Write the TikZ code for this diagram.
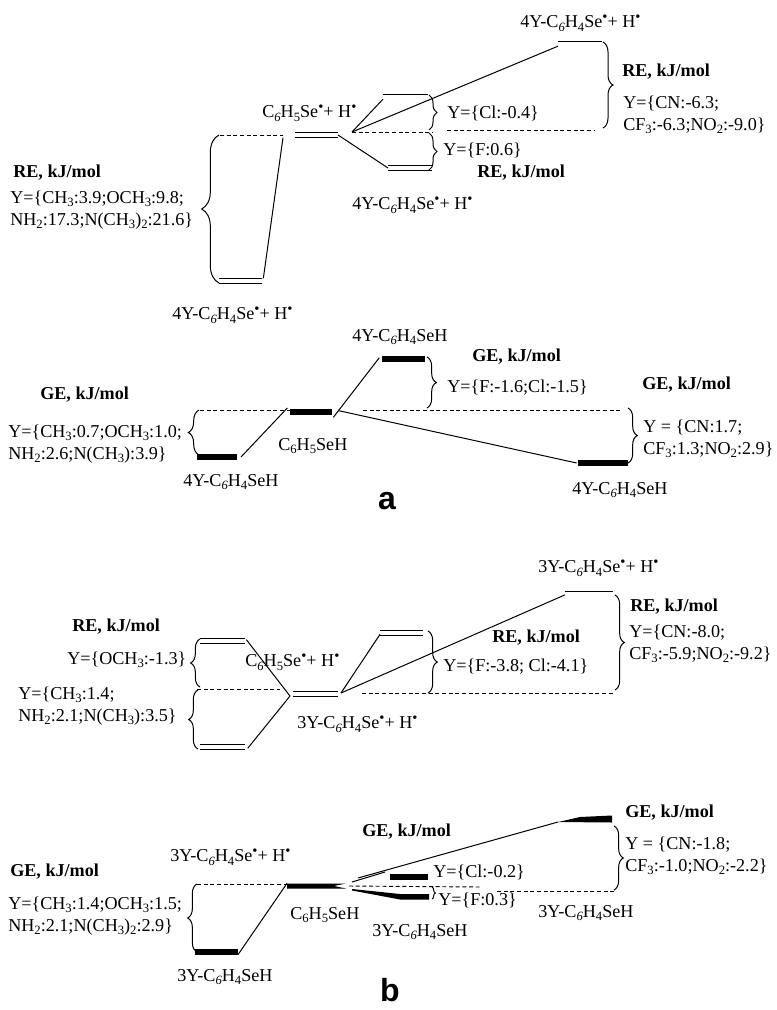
\documentclass[tikz,border=0pt]{standalone}
\usepackage{fontspec}
\setmainfont{Liberation Serif}
\newfontfamily\lblfont{Liberation Sans}
\usetikzlibrary{decorations.pathreplacing}
\newcommand\sbs[1]{\raisebox{-0.4ex}{\fontsize{9.5}{9.5}\selectfont #1}}
\newcommand\rad{\raisebox{0.75ex}{\fontsize{11}{11}\selectfont •}}
\newcommand\sxi{\sbs{\textit{6}}}
\begin{document}
\begin{tikzpicture}[x=0.75pt,y=-0.75pt,
 txt/.style={anchor=west, inner sep=0pt, font=\fontsize{13.6}{16.5}\selectfont, align=left},
 bold/.style={txt, font=\fontsize{13.6}{16.5}\selectfont\bfseries},
 big/.style={inner sep=0pt, font=\lblfont\fontsize{24}{24}\selectfont\bfseries},
 lev/.style={double, double distance=3pt, line width=0.65pt},
 bar/.style={line width=4pt},
 conn/.style={line width=0.75pt},
 dsh/.style={dash pattern=on 3pt off 2pt, line width=0.7pt},
 brc/.style={decorate, decoration={brace, amplitude=#1}, line width=0.75pt},
]
\useasboundingbox (0,0) rectangle (777,1010);

% ================= a : RE =================
\coordinate (aC1) at (295,135); \coordinate (aC2) at (338,135);
\coordinate (aD1) at (220,135); \coordinate (aD2) at (283,135);
\coordinate (aL1) at (219,281); \coordinate (aL2) at (262,281);
\coordinate (aAp) at (352,132);
\coordinate (aCl1) at (383,96.5); \coordinate (aCl2) at (428,96.5);
\coordinate (aT1) at (558,43.5); \coordinate (aT2) at (602,43.5);
\coordinate (aF1) at (388,168); \coordinate (aF2) at (432,168);
\coordinate (aE1) at (433,132); \coordinate (aG1) at (447,130); \coordinate (aG2) at (595,130);

\draw[lev] (aC1) -- (aC2);
\draw[lev] (aL1) -- (aL2);
\draw[lev] (aCl1) -- (aCl2);
\draw[lev] (aT1) -- (aT2);
\draw[lev] (aF1) -- (aF2);
\draw[dsh] (aD1) -- (aD2);
\draw[dsh] (aAp) -- (aE1);
\draw[dsh] (aG1) -- (aG2);
\draw[conn] ([yshift=-2]aD2) -- ([xshift=1,yshift=2]aL2);
\draw[conn] (aAp) -- ([yshift=-2]aCl1);
\draw[conn] (aAp) -- ([yshift=-2]aT1);
\draw[conn] (aC2) -- (aF1);
\draw[brc=13pt] (219,283) -- (219,135);
\draw[brc=6pt] (429,95) -- (429,130);
\draw[brc=6pt] (429,133) -- (429,170);
\draw[brc=7.5pt] (603,42) -- (603,128);

\node[txt] (a1) at (262,113) {C\sxi H\sbs{5}Se\rad+ H\rad};
\node[bold] (a2) at (13,173) {RE, kJ/mol};
\node[txt] (a3) at (10,210) {Y=\{CH\sbs{3}:3.9;OCH\sbs{3}:9.8;\\NH\sbs{2}:17.3;N(CH\sbs{3})\sbs{2}:21.6\}};
\node[txt] (a4) at (172,315) {4Y-C\sxi H\sbs{4}Se\rad+ H\rad};
\node[txt] (a5) at (520,23) {4Y-C\sxi H\sbs{4}Se\rad+ H\rad};
\node[bold] (a6) at (622,72) {RE, kJ/mol};
\node[txt] (a7) at (623,115) {Y=\{CN:-6.3;\\CF\sbs{3}:-6.3;NO\sbs{2}:-9.0\}};
\node[txt] (a8) at (447,113) {Y=\{Cl:-0.4\}};
\node[txt] (a9) at (443,150) {Y=\{F:0.6\}};
\node[bold] (a10) at (477,173) {RE, kJ/mol};
\node[txt] (a11) at (352,205) {4Y-C\sxi H\sbs{4}Se\rad+ H\rad};

% ================= a : GE =================
\coordinate (gC1) at (290,412); \coordinate (gC2) at (332,412);
\coordinate (gL1) at (197,457); \coordinate (gL2) at (237,457);
\coordinate (gU1) at (382,359); \coordinate (gU2) at (425,359);
\coordinate (gR1) at (578,463); \coordinate (gR2) at (628,463);
\coordinate (gD1) at (200,410); \coordinate (gD2) at (290,410);
\coordinate (gE1) at (363,410); \coordinate (gE2) at (620,410);

\draw[bar] (gC1) -- (gC2);
\draw[bar] (gL1) -- (gL2);
\draw[bar] (gU1) -- (gU2);
\draw[bar] (gR1) -- (gR2);
\draw[dsh] (gD1) -- (gD2);
\draw[dsh] (gE1) -- (gE2);
\draw[conn] ([xshift=3]gL2) -- ([xshift=-2,yshift=3]gC1);
\draw[conn] ([xshift=1,yshift=-4]gC2) -- ([xshift=-2,yshift=1]gU1);
\draw[conn] ([xshift=5,yshift=1]gC2) -- ([xshift=-1]gR1);
\draw[brc=8pt] (199,455) -- (199,410);
\draw[brc=7pt] (427,357) -- (427,408);
\draw[brc=7pt] (628,408) -- (628,463);

\node[bold] (g1) at (40,395) {GE, kJ/mol};
\node[txt] (g2) at (8,444) {Y=\{CH\sbs{3}:0.7;OCH\sbs{3}:1.0;\\NH\sbs{2}:2.6;N(CH\sbs{3}):3.9\}};
\node[txt] (g3) at (278,446) {C\sbs{6}H\sbs{5}SeH};
\node[txt] (g4) at (183,482) {4Y-C\sxi H\sbs{4}SeH};
\node[txt] (g5) at (352,337) {4Y-C\sxi H\sbs{4}SeH};
\node[bold] (g6) at (472,357) {GE, kJ/mol};
\node[txt] (g7) at (447,388) {Y=\{F:-1.6;Cl:-1.5\}};
\node[bold] (g8) at (642,385) {GE, kJ/mol};
\node[txt] (g9) at (643,439) {Y = \{CN:1.7;\\CF\sbs{3}:1.3;NO\sbs{2}:2.9\}};
\node[txt] (g10) at (572,490) {4Y-C\sxi H\sbs{4}SeH};
\node[big] (la) at (387,501) {a};

% ================= b : RE =================
\coordinate (rU1) at (200,641); \coordinate (rU2) at (245,641);
\coordinate (rC1) at (293,694); \coordinate (rC2) at (338,694);
\coordinate (rL1) at (200,747); \coordinate (rL2) at (245,747);
\coordinate (rF1) at (380,633); \coordinate (rF2) at (423,633);
\coordinate (rT1) at (565,593.5); \coordinate (rT2) at (613,593.5);
\coordinate (rApL) at (290,696); \coordinate (rApR) at (341,693);
\coordinate (rD1) at (197,689); \coordinate (rD2) at (280,689);
\coordinate (rE1) at (362,693); \coordinate (rE2) at (613,693);

\draw[lev] (rU1) -- (rU2);
\draw[lev] (rC1) -- (rC2);
\draw[lev] (rL1) -- (rL2);
\draw[lev] (rF1) -- (rF2);
\draw[lev] (rT1) -- (rT2);
\draw[dsh] (rD1) -- (rD2);
\draw[dsh] (rE1) -- (rE2);
\draw[conn] ([xshift=1,yshift=1]rU2) -- (rApL);
\draw[conn] (rApL) -- ([xshift=2,yshift=-1]rL2);
\draw[conn] (rApR) -- ([yshift=-1]rF1);
\draw[conn] (rApR) -- ([yshift=-1]rT1);
\draw[brc=7pt] (200,687) -- (200,639);
\draw[brc=7pt] (198,749) -- (198,690);
\draw[brc=7pt] (428,631) -- (428,693);
\draw[brc=7pt] (615,595) -- (615,690);

\node[bold] (r1) at (72,627) {RE, kJ/mol};
\node[txt] (r2) at (67,660) {Y=\{OCH\sbs{3}:-1.3\}};
\node[txt] (r3) at (18,706) {Y=\{CH\sbs{3}:1.4;\\NH\sbs{2}:2.1;N(CH\sbs{3}):3.5\}};
\node[txt] (r4) at (245,662) {C\sxi H\sbs{5}Se\rad+ H\rad};
\node[txt] (r5) at (297,724) {3Y-C\sxi H\sbs{4}Se\rad+ H\rad};
\node[bold] (r6) at (492,638) {RE, kJ/mol};
\node[txt] (r7) at (443,667) {Y=\{F:-3.8; Cl:-4.1\}};
\node[txt] (r8) at (538,568) {3Y-C\sxi H\sbs{4}Se\rad+ H\rad};
\node[bold] (r9) at (630,607) {RE, kJ/mol};
\node[txt] (r10) at (629,644) {Y=\{CN:-8.0;\\CF\sbs{3}:-5.9;NO\sbs{2}:-9.2\}};

% ================= b : GE =================
\coordinate (bL1) at (195,952); \coordinate (bL2) at (238,952);
\coordinate (bCa) at (287,886);
\coordinate (bD1) at (197,884); \coordinate (bD2) at (287,884);
\coordinate (bAp) at (349,886);
\coordinate (bE1) at (480,887); \coordinate (bG1) at (497,891); \coordinate (bG2) at (614,891);
\coordinate (bCl1) at (390,877); \coordinate (bCl2) at (428,877);
\coordinate (bS1) at (352,882); \coordinate (bS2) at (385,872);
\coordinate (bK1) at (358,878); \coordinate (bTR) at (558,822);

\fill (287,883.5) -- (346,883.5) -- (334,886) -- (346,888.5) -- (287,888.5) -- cycle;
\fill (bTR) -- (580,817) -- (612,815.5) -- (612,822.5) -- cycle;
\fill (352,889) -- (400,894) -- (429,894) -- (429,899.5) -- (400,899.5) -- (352,890.5) -- cycle;
\draw[bar] (bL1) -- (bL2);
\draw[bar] (bCl1) -- (bCl2);
\draw[dsh] (bD1) -- (bD2);
\draw[dsh] (bAp) -- (bE1);
\draw[dsh] (bG1) -- (bG2);
\draw[conn] ([yshift=-2]bL2) -- ([yshift=2]bCa);
\draw[conn] (bS1) -- (bS2);
\draw[conn] (bK1) -- (bTR);
\draw[brc=7pt] (197,952) -- (197,884);
\draw[brc=7pt] (614,826) -- (614,890);
\draw[brc=2.5pt] (432,887) -- (432,899);

\node[bold] (b1) at (10,872) {GE, kJ/mol};
\node[txt] (b2) at (8,916) {Y=\{CH\sbs{3}:1.4;OCH\sbs{3}:1.5;\\NH\sbs{2}:2.1;N(CH\sbs{3})\sbs{2}:2.9\}};
\node[txt] (b3) at (170,857) {3Y-C\sxi H\sbs{4}Se\rad+ H\rad};
\node[txt] (b4) at (290,915) {C\sbs{6}H\sbs{5}SeH};
\node[txt] (b5) at (177,977) {3Y-C\sxi H\sbs{4}SeH};
\node[bold] (b6) at (362,832) {GE, kJ/mol};
\node[txt] (b7) at (433,872) {Y=\{Cl:-0.2\}};
\node[txt] (b8) at (438,900) {Y=\{F:0.3\}};
\node[txt] (b9) at (372,932) {3Y-C\sxi H\sbs{4}SeH};
\node[txt] (b10) at (538,913) {3Y-C\sxi H\sbs{4}SeH};
\node[bold] (b11) at (625,813) {GE, kJ/mol};
\node[txt] (b12) at (625,856) {Y = \{CN:-1.8;\\CF\sbs{3}:-1.0;NO\sbs{2}:-2.2\}};
\node[big] (lb) at (390,990) {b};
\end{tikzpicture}
\end{document}
